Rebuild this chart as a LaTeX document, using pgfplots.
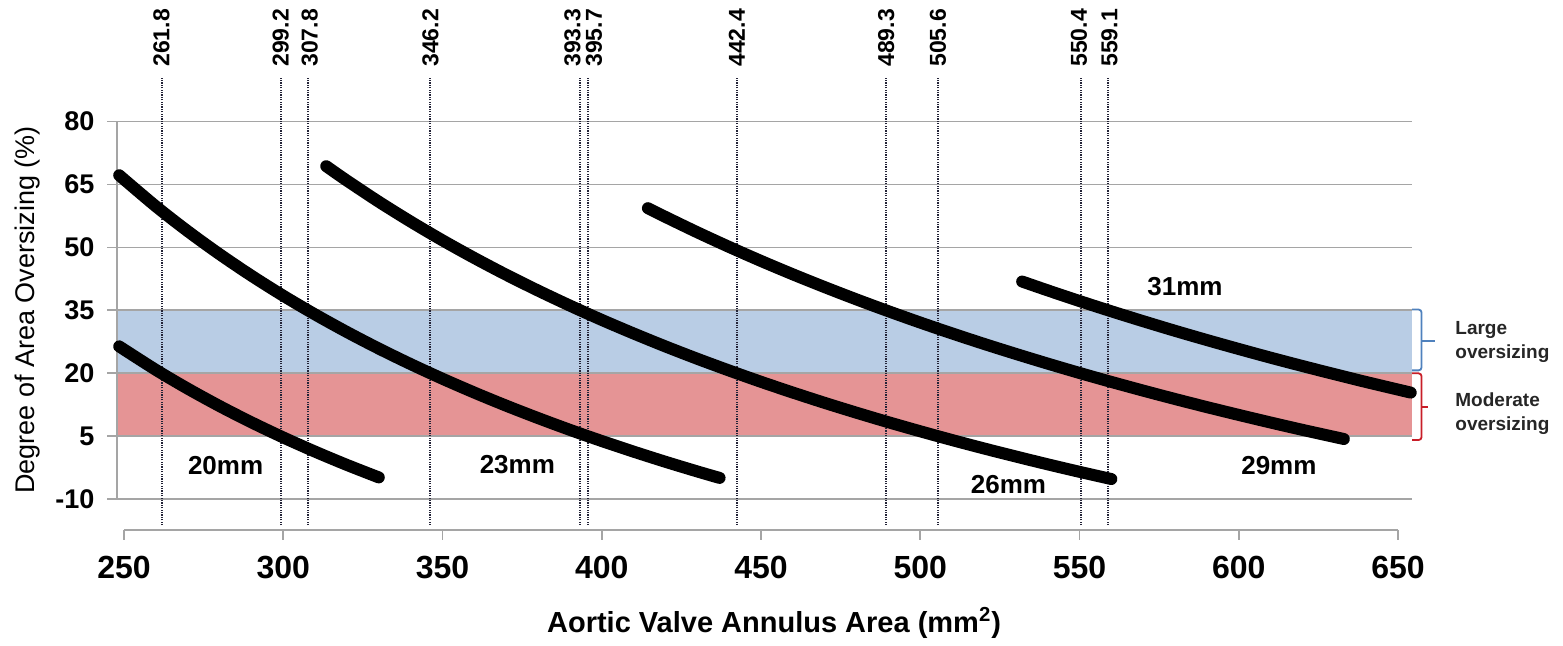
\documentclass[border=0pt]{standalone}
\usepackage{pgfplots}
\pgfplotsset{compat=1.18}
\usepackage{fontspec}
\setmainfont{Liberation Sans}
\definecolor{bandblue}{RGB}{185,205,229}
\definecolor{bandred}{RGB}{229,148,149}
\definecolor{gridgray}{RGB}{165,165,165}
\definecolor{dotc}{RGB}{35,35,55}
\definecolor{brblue}{RGB}{79,129,189}
\definecolor{brred}{RGB}{200,30,40}
\newcommand{\vl}[1]{\rotatebox{90}{\bfseries\fontsize{11.5}{13}\selectfont #1}}
\begin{document}
\begin{tikzpicture}
\begin{axis}[
  set layers,
  scale only axis,
  width=647.5pt, height=204.2pt,
  xmin=247.8, xmax=654.4, ymin=-17.32, ymax=80,
  clip=false,
  axis x line*=bottom, axis y line*=left,
  x axis line style={draw=none}, y axis line style={draw=none},
  xtick={250,300,350,400,450,500,550,600,650},
  xticklabels={250,300,350,400,450,500,550,600,650},
  ytick={-10,5,20,35,50,65,80},
  yticklabels={-10,5,20,35,50,65,80},
  tick align=outside, major tick length=4.8pt,
  tick style={gridgray, line width=0.9pt},
  ymajorgrids, grid style={gridgray, line width=0.9pt},
  xticklabel style={font=\bfseries\fontsize{16}{16}\selectfont, yshift=-4.7pt},
  yticklabel style={font=\bfseries\fontsize{13.5}{13.5}\selectfont, xshift=-3pt},
]
% bounding box matching the reference proportions
\path (axis cs:211.07,108.96) rectangle (axis cs:701.81,-44.76);

% bands
\addplot[draw=none, fill=bandblue, on layer=axis background] coordinates {(247.8,20) (654.4,20) (654.4,35) (247.8,35)} -- cycle;
\addplot[draw=none, fill=bandred, on layer=axis background] coordinates {(247.8,5) (654.4,5) (654.4,20) (247.8,20)} -- cycle;

% axis lines
\draw[gridgray, line width=0.9pt] (axis cs:247.8,-10) -- (axis cs:247.8,80);
\draw[gridgray, line width=0.9pt] (axis cs:250,-17.32) -- (axis cs:650,-17.32);

% dotted reference lines
\pgfplotsset{refl/.style={dotc, line width=1pt, dash pattern=on 0.6pt off 0.6pt}}
\addplot[refl] coordinates {(261.8,-16.2) (261.8,90.5)};
\addplot[refl] coordinates {(299.2,-16.2) (299.2,90.5)};
\addplot[refl] coordinates {(307.8,-16.2) (307.8,90.5)};
\addplot[refl] coordinates {(346.2,-16.2) (346.2,90.5)};
\addplot[refl] coordinates {(393.3,-16.2) (393.3,90.5)};
\addplot[refl] coordinates {(395.7,-16.2) (395.7,90.5)};
\addplot[refl] coordinates {(442.4,-16.2) (442.4,90.5)};
\addplot[refl] coordinates {(489.3,-16.2) (489.3,90.5)};
\addplot[refl] coordinates {(505.6,-16.2) (505.6,90.5)};
\addplot[refl] coordinates {(550.4,-16.2) (550.4,90.5)};
\addplot[refl] coordinates {(559.1,-16.2) (559.1,90.5)};

\tikzset{vlab/.style={anchor=south, inner sep=0pt}}
\node[vlab] at (axis cs:261.8,93) {\vl{261.8}};
\node[vlab] at (axis cs:299.2,93) {\vl{299.2}};
\node[vlab] at (axis cs:308.3,93) {\vl{307.8}};
\node[vlab] at (axis cs:346.2,93) {\vl{346.2}};
\node[vlab] at (axis cs:390.8,93) {\vl{393.3}};
\node[vlab] at (axis cs:397.6,93) {\vl{395.7}};
\node[vlab] at (axis cs:442.4,93) {\vl{442.4}};
\node[vlab] at (axis cs:489.3,93) {\vl{489.3}};
\node[vlab] at (axis cs:505.6,93) {\vl{505.6}};
\node[vlab] at (axis cs:549.8,93) {\vl{550.4}};
\node[vlab] at (axis cs:559.4,93) {\vl{559.1}};

% curves
\pgfplotsset{curve/.style={black, line width=6pt, line cap=round, smooth}}
% 20mm
\addplot[curve] coordinates {(248.5,26.42) (260,20.83) (270,16.36) (280,12.20) (290,8.33) (300,4.72) (310,1.34) (320,-1.83) (330,-4.80)};
% 23mm
\addplot[curve] coordinates {(248.5,67.20) (260,59.80) (270,53.88) (280,48.39) (290,43.27) (300,38.49) (310,34.03) (320,29.84) (330,25.90) (340,22.20) (350,18.71) (360,15.41) (370,12.29) (380,9.34) (390,6.53) (400,3.87) (410,1.34) (420,-1.08) (430,-3.38) (437,-4.92)};
% 26mm
\addplot[curve] coordinates {(313.5,69.36) (320,65.92) (330,60.89) (340,56.16) (350,51.69) (360,47.48) (370,43.49) (380,39.72) (390,36.14) (400,32.73) (410,29.50) (420,26.41) (430,23.47) (440,20.67) (450,17.98) (460,15.42) (470,12.96) (480,10.61) (490,8.35) (500,6.19) (510,4.10) (520,2.10) (530,0.18) (540,-1.68) (550,-3.47) (560,-5.19)};
% 29mm
\addplot[curve] coordinates {(414.5,59.35) (420,57.27) (430,53.61) (440,50.12) (450,46.78) (460,43.59) (470,40.54) (480,37.61) (490,34.80) (500,32.10) (510,29.51) (520,27.02) (530,24.63) (540,22.32) (550,20.09) (560,17.95) (570,15.88) (580,13.88) (590,11.95) (600,10.09) (610,8.28) (620,6.53) (633,4.35)};
% 31mm
\addplot[curve] coordinates {(532,41.87) (540,39.77) (550,37.23) (560,34.78) (570,32.42) (580,30.13) (590,27.93) (600,25.80) (610,23.73) (620,21.74) (630,19.81) (640,17.93) (654,15.41)};

% curve labels
\tikzset{cl/.style={font=\bfseries\fontsize{13}{13}\selectfont, inner sep=0pt}}
\node[cl] at (axis cs:281.9,-1.86) {20mm};
\node[cl] at (axis cs:373.5,-1.86) {23mm};
\node[cl] at (axis cs:527.7,-6.6) {26mm};
\node[cl] at (axis cs:612.6,-1.86) {29mm};
\node[cl] at (axis cs:583.1,40.6) {31mm};

% brackets
\draw[brblue, line width=0.9pt, rounded corners=1.5pt] (axis cs:654.4,35.2) -- (axis cs:657.4,35.2) -- (axis cs:657.4,20.7) -- (axis cs:654.4,20.7);
\draw[brblue, line width=0.9pt] (axis cs:657.4,27.7) -- (axis cs:661.6,27.7);
\draw[brred, line width=0.9pt, rounded corners=1.5pt] (axis cs:654.4,20.0) -- (axis cs:657.4,20.0) -- (axis cs:657.4,4.1) -- (axis cs:654.4,4.1);
\draw[brred, line width=0.9pt] (axis cs:657.4,12.0) -- (axis cs:659.4,12.0);

\tikzset{br/.style={font=\bfseries\fontsize{9.5}{12}\selectfont, align=left, anchor=west, inner sep=0pt, text=black!85}}
\node[br] at (axis cs:667.9,27.4) {Large\\oversizing};
\node[br] at (axis cs:667.9,10.3) {Moderate\\oversizing};

% axis titles
\node[rotate=90, font=\fontsize{13.5}{13.5}\selectfont] at (axis cs:219.7,35.1) {Degree of Area Oversizing (\%)};
\node[font=\bfseries\fontsize{14.5}{14.5}\selectfont] at (axis cs:454.1,-39.5) {Aortic Valve Annulus Area (mm\textsuperscript{2})};
\end{axis}
\end{tikzpicture}
\end{document}
